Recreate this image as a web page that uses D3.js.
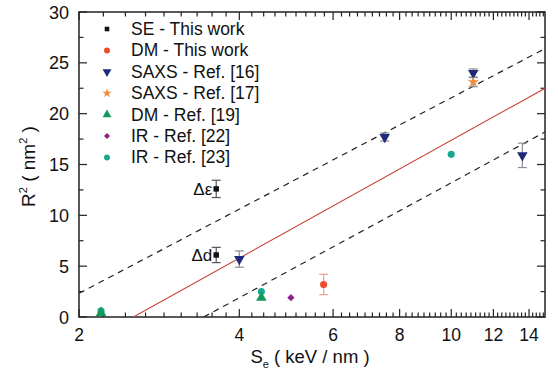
<!DOCTYPE html>
<html>
<head>
<meta charset="utf-8">
<script src="https://cdn.jsdelivr.net/npm/d3@7"></script>
<style>
  body { margin: 0; background: #fff; }
  text { font-family: 'Liberation Sans', Arial, sans-serif; }
</style>
</head>
<body>
<div id="chart"></div>
<script>
// values
let xTicks = [2, 4, 6, 8, 10, 12, 14];
let yTicks = [0, 5, 10, 15, 20, 25, 30];

let seX = [3.62, 3.62];
let seY = [12.6, 6.1];
let seErr = [0.85, 0.75];
let seLab = ['Δε', 'Δd'];

let dmX = [5.76];
let dmY = [3.2];
let dmErr = [1.0];

let saxs16X = [4.0, 7.5, 11.0, 13.6];
let saxs16Y = [5.7, 17.7, 24.0, 15.9];
let saxs16Err = [0.8, 0.4, 0.4, 1.2];

let saxs17X = [11.0];
let saxs17Y = [23.1];
let saxs17Err = [0.45];

let dm19X = [2.2, 4.4];
let dm19Y = [0.4, 1.9];

let ir22X = [5.0];
let ir22Y = [1.9];

let ir23X = [2.2, 4.4, 10.0];
let ir23Y = [0.6, 2.5, 16.0];

let fitX = [2.53, 15];
let fitY = [0, 22.5];
let upX = [2, 15];
let upY = [2.33, 26.4];
let loX = [3.43, 15];
let loY = [0, 18.2];

let legendNames = ['SE - This work', 'DM - This work', 'SAXS - Ref. [16]', 'SAXS - Ref. [17]',
  'DM - Ref. [19]', 'IR - Ref. [22]', 'IR - Ref. [23]'];

let width = 558, height = 376;
let margin = { top: 12, right: 13, bottom: 59, left: 79 };

let svg = d3.select('#chart').append('svg').attr('width', width).attr('height', height);

let x = d3.scaleLog().domain([2, 15]).range([margin.left, width - margin.right]);
let y = d3.scaleLinear().domain([0, 30]).range([height - margin.bottom, margin.top]);

// minor ticks: 8 per major interval like origin does
let xMinor = [];
for (let i = 2; i < 15; i += 2) {
  for (let k = 1; k < 9; k++) {
    let v = i + k * 2 / 9;
    if (v < 15) xMinor.push(v);
  }
}
let yMinor = d3.range(2.5, 30, 5);

let x0 = margin.left, x1 = width - margin.right, y0 = height - margin.bottom, y1 = margin.top;
let axisCol = '#222';

let tk = svg.append('g').attr('stroke', axisCol).attr('stroke-width', 1.2);
// bottom + top ticks (inward)
xTicks.forEach(v => {
  tk.append('line').attr('x1', x(v)).attr('x2', x(v)).attr('y1', y0).attr('y2', y0 - 8);
  tk.append('line').attr('x1', x(v)).attr('x2', x(v)).attr('y1', y1).attr('y2', y1 + 8);
});
xMinor.forEach(v => {
  tk.append('line').attr('x1', x(v)).attr('x2', x(v)).attr('y1', y0).attr('y2', y0 - 4.5);
  tk.append('line').attr('x1', x(v)).attr('x2', x(v)).attr('y1', y1).attr('y2', y1 + 4.5);
});
yTicks.forEach(v => {
  tk.append('line').attr('x1', x0).attr('x2', x0 + 8).attr('y1', y(v)).attr('y2', y(v));
  tk.append('line').attr('x1', x1).attr('x2', x1 - 8).attr('y1', y(v)).attr('y2', y(v));
});
yMinor.forEach(v => {
  tk.append('line').attr('x1', x0).attr('x2', x0 + 4.5).attr('y1', y(v)).attr('y2', y(v));
  tk.append('line').attr('x1', x1).attr('x2', x1 - 4.5).attr('y1', y(v)).attr('y2', y(v));
});

svg.append('rect').attr('x', x0).attr('y', y1).attr('width', x1 - x0).attr('height', y0 - y1)
  .attr('fill', 'none').attr('stroke', axisCol).attr('stroke-width', 1.5);

// tick labels
svg.append('g').selectAll('text').data(xTicks).enter().append('text')
  .attr('x', d => x(d)).attr('y', y0 + 24)
  .attr('text-anchor', 'middle').attr('font-size', 17.5).attr('fill', '#111')
  .text(d => d);
svg.append('g').selectAll('text').data(yTicks).enter().append('text')
  .attr('x', x0 - 10).attr('y', d => y(d) + 6.5)
  .attr('text-anchor', 'end').attr('font-size', 18).attr('fill', '#111')
  .text(d => d);

// axis titles
let xt = svg.append('text').attr('x', 310).attr('y', 363).attr('text-anchor', 'middle')
  .attr('font-size', 18.5).attr('fill', '#111');
xt.append('tspan').text('S');
xt.append('tspan').attr('font-size', 11).attr('dy', 5).text('e');
xt.append('tspan').attr('dy', -5).text(' ( keV / nm )');

let yt = svg.append('text').attr('transform', 'translate(35,' + (y(15) + 2) + ') rotate(-90)')
  .attr('text-anchor', 'middle').attr('font-size', 19).attr('fill', '#111');
yt.append('tspan').text('R');
yt.append('tspan').attr('font-size', 11).attr('dy', -8).text('2');
yt.append('tspan').attr('dy', 8).text(' ( nm');
yt.append('tspan').attr('font-size', 11).attr('dy', -8).text('2');
yt.append('tspan').attr('dy', 8).text(' )');

// lines
svg.append('clipPath').attr('id', 'clip').append('rect')
  .attr('x', x0).attr('y', y1).attr('width', x1 - x0).attr('height', y0 - y1);
let line = d3.line().x(d => x(d[0])).y(d => y(d[1]));
let lines = svg.append('g').attr('clip-path', 'url(#clip)').attr('fill', 'none');
lines.append('path').attr('d', line(d3.zip(upX, upY)))
  .attr('stroke', '#222').attr('stroke-width', 1.2).attr('stroke-dasharray', '6,5');
lines.append('path').attr('d', line(d3.zip(loX, loY)))
  .attr('stroke', '#222').attr('stroke-width', 1.2).attr('stroke-dasharray', '6,5');
lines.append('path').attr('d', line(d3.zip(fitX, fitY)))
  .attr('stroke', '#c8473c').attr('stroke-width', 1.1);

// error bars
function errBars(xs, ys, es, col) {
  let g = svg.append('g').attr('stroke', col).attr('stroke-width', 1.2);
  xs.forEach((v, i) => {
    let px = x(v), ya = y(ys[i] + es[i]), yb = y(ys[i] - es[i]);
    g.append('line').attr('x1', px).attr('x2', px).attr('y1', ya).attr('y2', yb);
    g.append('line').attr('x1', px - 4.5).attr('x2', px + 4.5).attr('y1', ya).attr('y2', ya);
    g.append('line').attr('x1', px - 4.5).attr('x2', px + 4.5).attr('y1', yb).attr('y2', yb);
  });
}
errBars(seX, seY, seErr, '#555');
errBars(dmX, dmY, dmErr, '#eda195');
errBars(saxs16X, saxs16Y, saxs16Err, '#8a8f99');
errBars(saxs17X, saxs17Y, saxs17Err, '#8a8f99');

// markers
let cSE = '#111', cDM = '#f04b2d', cS16 = '#1f2a78', cS17 = '#f08a3c',
  cDM19 = '#14995a', cIR22 = '#8e1f8c', cIR23 = '#17a88e';

let series = [
  { xs: seX, ys: seY, col: cSE, type: d3.symbolSquare, size: 30, rot: 0 },
  { xs: dmX, ys: dmY, col: cDM, type: d3.symbolCircle, size: 40, rot: 0 },
  { xs: saxs16X, ys: saxs16Y, col: cS16, type: d3.symbolTriangle, size: 48, rot: 180 },
  { xs: saxs17X, ys: saxs17Y, col: cS17, type: d3.symbolStar, size: 40, rot: 0 },
  { xs: dm19X, ys: dm19Y, col: cDM19, type: d3.symbolTriangle, size: 48, rot: 0 },
  { xs: ir22X, ys: ir22Y, col: cIR22, type: d3.symbolSquare, size: 26, rot: 45 },
  { xs: ir23X, ys: ir23Y, col: cIR23, type: d3.symbolCircle, size: 40, rot: 0 }
];
// teal first so the green triangles sit on top
let order = [6, 0, 1, 2, 3, 4, 5];
order.forEach(si => {
  let s = series[si];
  svg.append('g').selectAll('path').data(d3.range(s.xs.length)).enter().append('path')
    .attr('d', d3.symbol().type(s.type).size(s.size))
    .attr('transform', i => 'translate(' + x(s.xs[i]) + ',' + y(s.ys[i]) + ') rotate(' + s.rot + ')')
    .attr('fill', s.col);
});

// Δ labels next to SE points
svg.append('g').selectAll('text').data(seLab).enter().append('text')
  .attr('x', (d, i) => x(seX[i]) - 4).attr('y', (d, i) => y(seY[i]) + 6)
  .attr('text-anchor', 'end').attr('font-size', 17).attr('fill', '#111')
  .text(d => d);

// legend
let lg = svg.append('g');
legendNames.forEach((name, i) => {
  let s = series[i];
  let ly = 29 + i * 21.4;
  lg.append('path').attr('d', d3.symbol().type(s.type).size(s.size * 0.7))
    .attr('transform', 'translate(107,' + ly + ') rotate(' + s.rot + ')')
    .attr('fill', s.col);
  lg.append('text').attr('x', 131).attr('y', ly + 6).attr('font-size', 17.5).attr('fill', '#111')
    .text(name);
});
</script>
</body>
</html>
